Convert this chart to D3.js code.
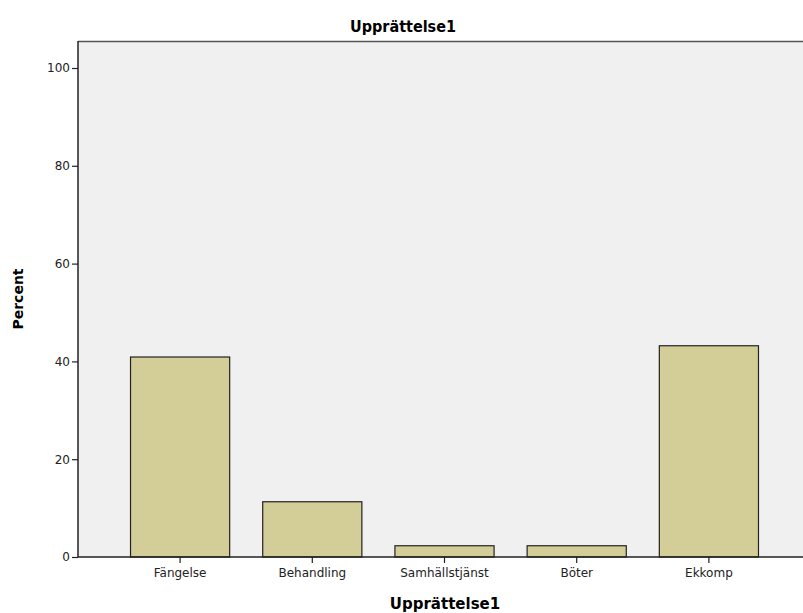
<!DOCTYPE html>
<html>
<head>
<meta charset="utf-8">
<script src="https://cdn.jsdelivr.net/npm/d3@7"></script>
<style>
  body { margin: 0; background: #fff; }
  svg { display: block; }
  .tick text { font-family: "DejaVu Sans"; font-size: 12px; fill: #222; }
</style>
</head>
<body>
<svg width="803" height="613"></svg>
<script>
const categories = ['Fängelse', 'Behandling', 'Samhällstjänst', 'Böter', 'Ekkomp'];
const percents = [40.9, 11.3, 2.3, 2.3, 43.2];
const yTicks = [0, 20, 40, 60, 80, 100];

const svg = d3.select('svg');
const plotLeft = 78, plotTop = 41, plotRight = 803, plotBottom = 557;

const x = d3.scaleBand()
  .domain(categories)
  .range([114, 775])
  .paddingInner(0.25)
  .paddingOuter(0.125);

const y = d3.scaleLinear()
  .domain([0, 100])
  .range([plotBottom, 68]);

// plot background
svg.append('rect')
  .attr('x', plotLeft).attr('y', plotTop)
  .attr('width', plotRight - plotLeft).attr('height', plotBottom - plotTop)
  .attr('fill', '#f0f0f0');

svg.append('line')
  .attr('x1', plotLeft).attr('x2', plotRight)
  .attr('y1', plotTop + 0.5).attr('y2', plotTop + 0.5)
  .attr('stroke', '#555').attr('stroke-width', 1.5);

// bars
svg.selectAll('rect.bar')
  .data(categories)
  .enter().append('rect')
  .attr('class', 'bar')
  .attr('x', d => x(d))
  .attr('width', x.bandwidth())
  .attr('y', (d, i) => y(percents[i]))
  .attr('height', (d, i) => y(0) - y(percents[i]))
  .attr('fill', '#d3ce97')
  .attr('stroke', '#222')
  .attr('stroke-width', 1.2);

// axes
const yAxis = svg.append('g')
  .attr('transform', `translate(${plotLeft},0)`)
  .call(d3.axisLeft(y).tickValues(yTicks).tickSize(6).tickSizeOuter(0));
yAxis.select('.domain').attr('d', `M0,${plotTop}V${plotBottom}`).attr('stroke', '#222').attr('stroke-width', 1.5);
yAxis.selectAll('.tick line').attr('stroke', '#222').attr('stroke-width', 1.2);
yAxis.selectAll('.tick text').attr('x', -8);

const xAxis = svg.append('g')
  .attr('transform', `translate(0,${plotBottom})`)
  .call(d3.axisBottom(x).tickSize(6).tickSizeOuter(0));
xAxis.select('.domain').attr('d', `M${plotLeft},0H${plotRight}`).attr('stroke', '#222').attr('stroke-width', 1.5);
xAxis.selectAll('.tick line').attr('stroke', '#222').attr('stroke-width', 1.2);
xAxis.selectAll('.tick text').attr('y', 11);

// titles
svg.append('text')
  .attr('x', 403).attr('y', 32)
  .attr('text-anchor', 'middle')
  .style('font-family', 'DejaVu Sans Condensed, DejaVu Sans')
  .style('font-weight', 'bold').style('font-size', '16px')
  .text('Upprättelse1');

svg.append('text')
  .attr('x', 445).attr('y', 609)
  .attr('text-anchor', 'middle')
  .style('font-family', 'DejaVu Sans')
  .style('font-weight', 'bold').style('font-size', '15px')
  .text('Upprättelse1');

svg.append('text')
  .attr('transform', 'translate(23,299) rotate(-90)')
  .attr('text-anchor', 'middle')
  .style('font-family', 'DejaVu Sans')
  .style('font-weight', 'bold').style('font-size', '14px')
  .text('Percent');
</script>
</body>
</html>
